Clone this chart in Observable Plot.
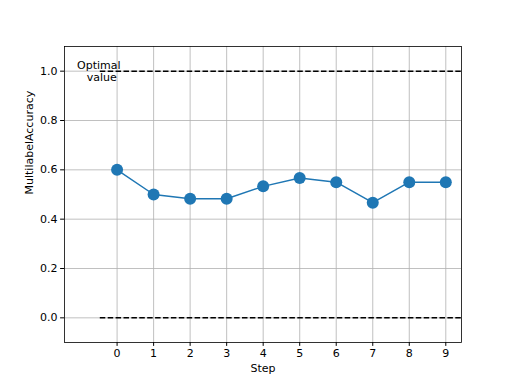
<!DOCTYPE html>
<html><head><meta charset="utf-8">
<script src="https://cdn.jsdelivr.net/npm/d3@7"></script>
<script src="https://cdn.jsdelivr.net/npm/@observablehq/plot@0.6"></script>
<style>body{margin:0;background:#fff}</style>
</head><body><div id="chart"></div>
<script>
const steps = [0,1,2,3,4,5,6,7,8,9];
const accuracy = [0.600,0.500,0.483,0.483,0.533,0.567,0.550,0.467,0.550,0.550];
const optimalLevels = [1.0, 0.0];
const xTicks = [0,1,2,3,4,5,6,7,8,9];
const yTicks = [0.0,0.2,0.4,0.6,0.8,1.0];
const annotation = ["Optimal", "value"];

const data = steps.map((s,i)=>({step:s, acc:accuracy[i]}));
const lines = optimalLevels.map(v=>({y:v}));

const chart = Plot.plot({
  width:512, height:384,
  marginLeft:64, marginRight:51, marginTop:46, marginBottom:42,
  style:{fontFamily:"DejaVu Sans", fontSize:"11px", color:"#000", background:"#fff"},
  x:{domain:[-1.44,9.43], ticks:xTicks},
  y:{domain:[-0.1,1.1], ticks:yTicks},
  marks:[
    Plot.ruleX(xTicks,{x:d=>d, stroke:"#b0b0b0", strokeWidth:0.8}),
    Plot.ruleY(yTicks,{y:d=>d, stroke:"#b0b0b0", strokeWidth:0.8}),
    Plot.ruleY(lines,{y:"y", x1:-0.46, x2:9.43, stroke:"#000", strokeWidth:1.5, strokeDasharray:"5.5,2.4"}),
    Plot.line(data,{x:"step", y:"acc", stroke:"#1f77b4", strokeWidth:1.5}),
    Plot.dot(data,{x:"step", y:"acc", r:6, fill:"#1f77b4", stroke:"none"}),
    Plot.text([annotation[0]],{x:-0.5, y:1.0, dy:-6, text:d=>d, textAnchor:"middle", lineAnchor:"middle", fontSize:11, fill:"#000"}),
    Plot.text([annotation[1]],{x:-0.5, y:1.0, dx:3, dy:6, text:d=>d, textAnchor:"middle", lineAnchor:"middle", fontSize:11, fill:"#000"}),
    Plot.axisX({ticks:xTicks, tickFormat:d=>String(d), tickSize:3.9, tickPadding:3, label:null, fontSize:11}),
    Plot.axisY({ticks:yTicks, tickFormat:d=>d.toFixed(1), tickSize:3.9, tickPadding:3, label:null, fontSize:11}),
    Plot.frame({stroke:"#000", strokeWidth:0.8}),
    Plot.text(["Step"],{frameAnchor:"bottom", dy:26, text:d=>d, fontSize:11, fill:"#000", lineAnchor:"middle"}),
    Plot.text(["MultilabelAccuracy"],{frameAnchor:"left", dx:-35, rotate:-90, text:d=>d, fontSize:11, fill:"#000", lineAnchor:"middle"})
  ]
});
document.getElementById("chart").appendChild(chart);
</script></body></html>
